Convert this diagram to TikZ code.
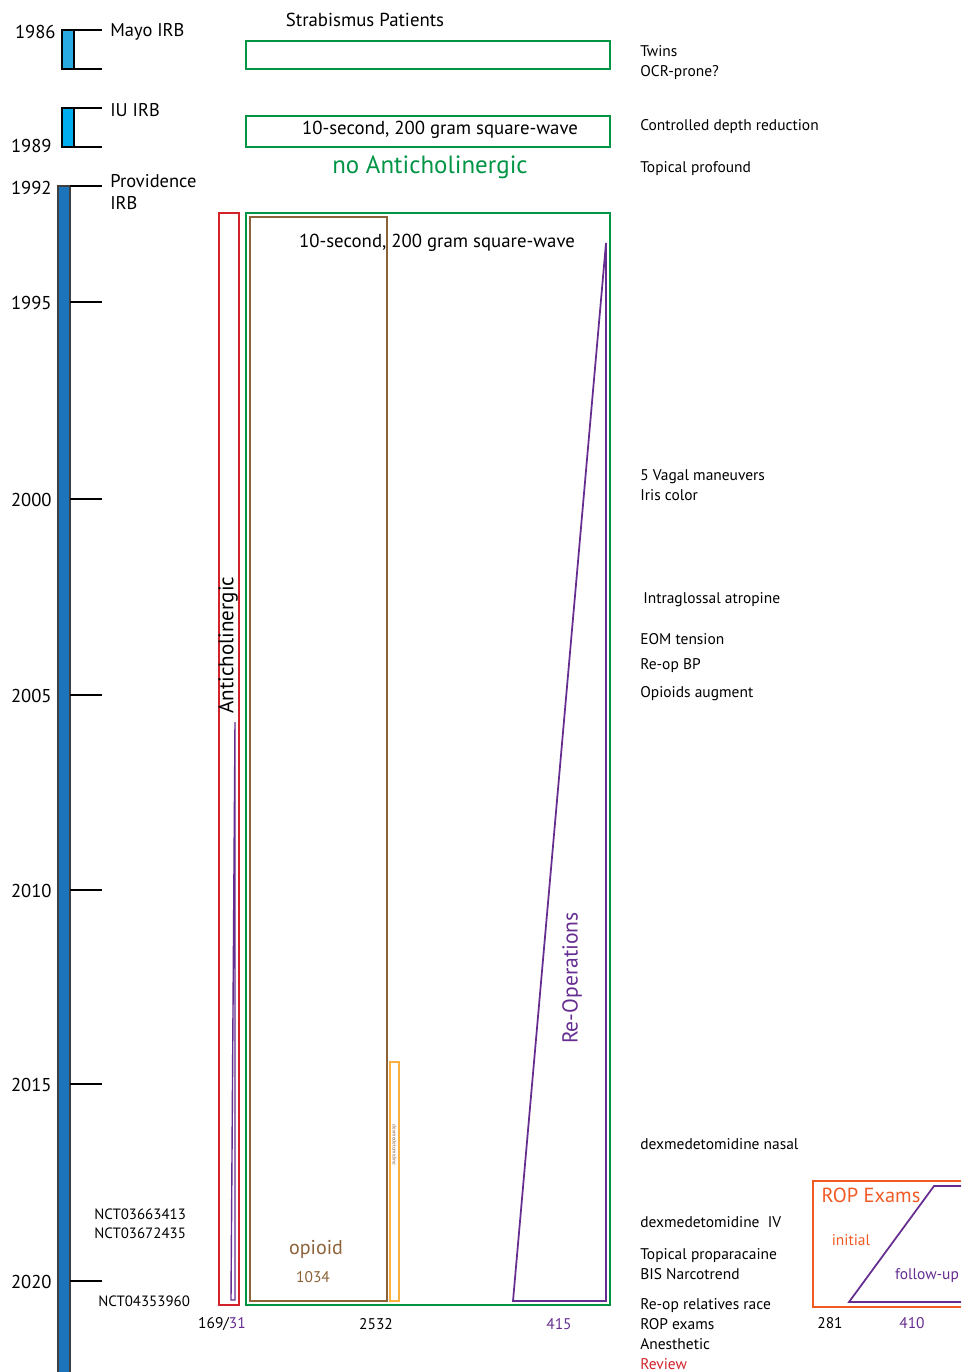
\documentclass[tikz,border=0pt]{standalone}
\usepackage{fontspec}
\setmainfont{PT Sans}
\definecolor{grn}{RGB}{0,148,68}
\definecolor{rd}{RGB}{210,35,42}
\definecolor{brn}{RGB}{140,98,57}
\definecolor{lorange}{RGB}{251,176,64}
\definecolor{rop}{RGB}{241,90,36}
\definecolor{prp}{RGB}{102,45,145}
\definecolor{mayo}{RGB}{41,171,226}
\definecolor{iu}{RGB}{0,174,239}
\definecolor{prov}{RGB}{28,117,188}
\begin{document}
\begin{tikzpicture}[x=0.02cm,y=-0.02cm,font=\fontsize{8.8}{11.3}\selectfont,
	tick/.style={line width=1.1pt},
	yr/.style={anchor=east,inner sep=0pt,font=\fontsize{10.6}{13}\selectfont},
	irb/.style={anchor=west,inner sep=0pt,font=\fontsize{10.5}{13}\selectfont,align=left},
	note/.style={anchor=west,inner sep=0pt,align=left},
	big/.style={inner sep=0pt,font=\fontsize{10.7}{13}\selectfont},
	box/.style={line width=1pt}]
	\useasboundingbox (0,0) rectangle (961,1372);

	% IRB timeline
	\filldraw[fill=mayo,tick] (62,30) rectangle (74,69);
	\draw[tick] (102,30) -- (74,30) -- (74,69) -- (102,69);
	\filldraw[fill=iu,tick] (62,108) rectangle (74,147);
	\draw[tick] (102,108) -- (74,108) -- (74,147) -- (102,147);
	\filldraw[fill=prov,draw=black!75,line width=0.8pt] (58,186) rectangle (70,1380);
	\draw[tick] (70,186) -- (102,186);
	\foreach \yy/\yname in {302/1995,499/2000,695/2005,890/2010,1084/2015,1281/2020}
	{
		\draw[tick] (70,\yy) -- (102,\yy);
		\node[yr] (y\yname) at (52,\yy+1) {\yname};
	}
	\node[yr] (y1986) at (56,32) {1986};
	\node[yr] (y1989) at (52,146) {1989};
	\node[yr] (y1992) at (52,188) {1992};

	\node[irb] (mayo) at (110,32) {Mayo IRB};
	\node[irb] (iu) at (110,110) {IU IRB};
	\node[irb] (prov) at (110,192) {Providence\\IRB};

	\node[note,font=\fontsize{8.5}{11}\selectfont] (nct1) at (94,1224) {NCT03663413\\NCT03672435};
	\node[note,font=\fontsize{8.5}{11}\selectfont] (nct3) at (98,1301) {NCT04353960};

	% top boxes
	\node[big] (strab) at (365,20) {Strabismus Patients};
	\draw[grn,box] (246,41) rectangle (610,69);
	\draw[grn,box] (246,116) rectangle (610,147);
	\node[big] (sq1) at (440,130) {10-second, 200 gram square-wave};
	\node[grn,inner sep=0pt,font=\fontsize{14.2}{16}\selectfont] (noanti) at (430,167) {no Anticholinergic};

	% main boxes
	\draw[grn,box] (246,213) rectangle (610,1305);
	\draw[rd,box] (219,213) rectangle (239,1305);
	\draw[brn,box] (250,217) rectangle (387,1301);
	\draw[lorange,box] (390,1062) rectangle (399,1301);
	\node[rotate=-90,brn,font=\fontsize{3}{3.5}\selectfont,inner sep=0pt] (dexsmall) at (394.5,1145) {dexmedetomidine};
	\node[big] (sq2) at (437,243) {10-second, 200 gram square-wave};
	\node[rotate=90,font=\fontsize{12}{14}\selectfont,inner sep=0pt] (anti) at (228,645) {Anticholinergic};
	\draw[prp,line width=0.8pt] (235,722) -- (235,1300) -- (231,1300) -- cycle;
	\draw[prp,line width=1pt] (606,243) -- (606,1301) -- (513,1301) -- cycle;
	\node[rotate=90,prp,font=\fontsize{12.3}{14}\selectfont,inner sep=0pt] (reop) at (572,978) {Re-Operations};
	\node[brn,font=\fontsize{11.4}{13}\selectfont,inner sep=0pt] (opioid) at (316,1249) {opioid};
	\node[brn,inner sep=0pt] (n1034) at (313,1277) {1034};

	% counts
	\node[inner sep=0pt] (n169) at (222,1324) {169/\textcolor{prp}{31}};
	\node[inner sep=0pt] (n2532) at (376,1324) {2532};
	\node[prp,inner sep=0pt] (n415) at (559,1324) {415};

	% ROP exams
	\draw[rop,box] (961,1181) -- (813,1181) -- (813,1307) -- (961,1307);
	\node[rop,font=\fontsize{11.6}{13}\selectfont,inner sep=0pt] (ropx) at (871,1195) {ROP Exams};
	\node[rop,inner sep=0pt] (initial) at (851,1240) {initial};
	\draw[prp,line width=1pt] (961,1186) -- (934,1186) -- (849,1302) -- (961,1302);
	\node[prp,inner sep=0pt] (follow) at (927,1276) {follow-up};
	\node[inner sep=0pt] (n281) at (830,1323) {281};
	\node[prp,inner sep=0pt] (n410) at (912,1323) {410};

	% notes
	\node[note] (twins) at (640,63) {Twins\\OCR-prone?};
	\node[note] (cdr) at (640,127) {Controlled depth reduction};
	\node[note] (topprof) at (640,169) {Topical profound};
	\node[note] (vagal) at (640,485) {5 Vagal maneuvers\\Iris color};
	\node[note] (atrop) at (643,600) {Intraglossal atropine};
	\node[note] (eom) at (640,639) {EOM tension};
	\node[note] (reopbp) at (640,666) {Re-op BP};
	\node[note] (opaug) at (640,694) {Opioids augment};
	\node[note] (dexn) at (640,1144) {dexmedetomidine nasal};
	\node[note] (dexiv) at (640,1222) {dexmedetomidine\ \ IV};
	\node[note] (topp) at (640,1264) {Topical proparacaine\\BIS Narcotrend};
	\node[note] (relat) at (640,1334) {Re-op relatives race\\ROP exams\\Anesthetic\\\textcolor{rd}{Review}};
\end{tikzpicture}
\end{document}
